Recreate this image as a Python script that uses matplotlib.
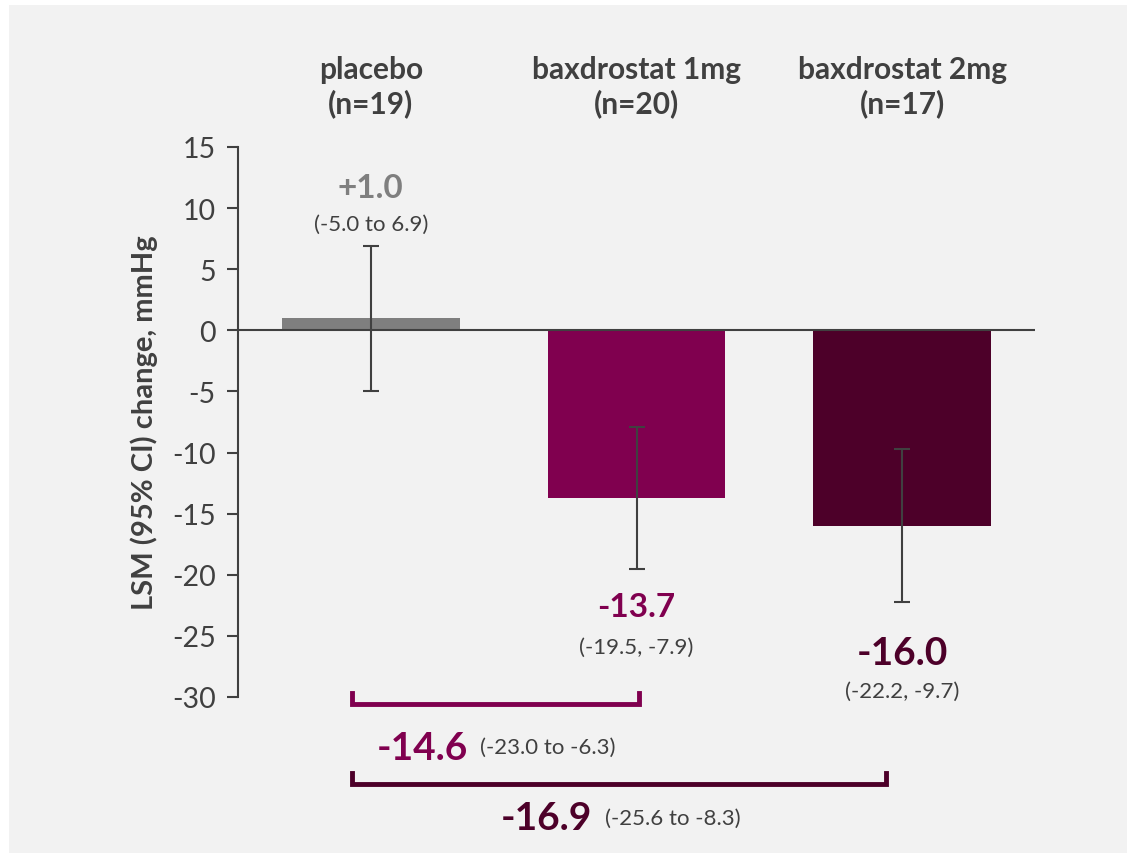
import numpy as np
import matplotlib.pyplot as plt
from matplotlib.patches import Rectangle

# --- data ---
groups = ['placebo', 'baxdrostat 1mg', 'baxdrostat 2mg']
n_sizes = [19, 20, 17]
lsm = [1.0, -13.7, -16.0]
ci_low = [-5.0, -19.5, -22.2]
ci_high = [6.9, -7.9, -9.7]
value_labels = ['+1.0', '-13.7', '-16.0']
ci_labels = ['(-5.0 to 6.9)', '(-19.5, -7.9)', '(-22.2, -9.7)']

# placebo-adjusted differences
diff_values = ['-14.6', '-16.9']
diff_ci = ['(-23.0 to -6.3)', '(-25.6 to -8.3)']

yticks = [15, 10, 5, 0, -5, -10, -15, -20, -25, -30]

# --- style ---
DARK = '#404040'
COLORS = ['#7F7F7F', '#80004F', '#4D0029']
FONT = ['Lato', 'DejaVu Sans']
plt.rcParams['font.family'] = FONT

fig = plt.figure(figsize=(11.27, 8.54), dpi=100)
fig.patch.set_facecolor('white')
fig.patches.append(Rectangle((9 / 1127, 0), 1 - 9 / 1127, 1 - 6 / 854,
                             transform=fig.transFigure, facecolor='#F2F2F2',
                             edgecolor='none', zorder=-10))

ax = fig.add_axes([238 / 1127, 1 - 698 / 854, (1035 - 238) / 1127, (698 - 148) / 854])
ax.set_facecolor('none')

x = np.arange(len(groups))
ax.bar(x, lsm, width=0.67, color=COLORS, zorder=2)
yerr = [np.array(lsm) - np.array(ci_low), np.array(ci_high) - np.array(lsm)]
ax.errorbar(x, lsm, yerr=yerr, fmt='none', ecolor=DARK, elinewidth=1.5,
            capsize=6, capthick=1.5, zorder=3)

ax.set_xlim(-0.5, 2.5)
ax.set_ylim(-30, 15)
ax.set_yticks(yticks)
ax.set_yticklabels([str(t) for t in yticks])
ax.tick_params(axis='y', direction='out', length=8, width=1.5, color=DARK,
               labelcolor=DARK, labelsize=20.5, pad=8)
ax.set_xticks([])
for s in ['top', 'right', 'bottom']:
    ax.spines[s].set_visible(False)
ax.spines['left'].set_color(DARK)
ax.spines['left'].set_linewidth(1.5)
ax.axhline(0, color=DARK, lw=1.5, zorder=4)

ax.set_ylabel('LSM (95% CI) change, mmHg', fontsize=21, fontweight='bold', color=DARK)
ax.yaxis.set_label_coords(-0.10, 0.5)

# group headers
for i, (g, n) in enumerate(zip(groups, n_sizes)):
    ax.text(x[i], 20.0, f'{g}\n(n={n})', ha='center', va='center', fontsize=21.5,
            fontweight='bold', color=DARK, linespacing=1.2, clip_on=False)

# value + CI labels
val_y = [11.7, -22.6, -26.4]
ci_y = [8.7, -25.9, -29.5]
val_size = [24, 24, 28]
for i in range(len(groups)):
    ax.text(x[i], val_y[i], value_labels[i], ha='center', va='center',
            fontsize=val_size[i], fontweight='bold', color=COLORS[i], clip_on=False)
    ax.text(x[i], ci_y[i], ci_labels[i], ha='center', va='center',
            fontsize=16, color=DARK, clip_on=False)

# comparison brackets
def bracket(x0, x1, y, h, color):
    ax.plot([x0, x0, x1, x1], [y + h, y, y, y + h], color=color, lw=3.5,
            clip_on=False, solid_joinstyle='miter')

bracket(-0.07, 1.01, -30.6, 0.9, COLORS[1])
bracket(-0.07, 1.94, -37.1, 0.9, COLORS[2])

ax.text(0.366, -34.1, diff_values[0], ha='right', va='center', fontsize=28,
        fontweight='bold', color=COLORS[1], clip_on=False)
ax.text(0.411, -34.1, diff_ci[0], ha='left', va='center', fontsize=16,
        color=DARK, clip_on=False)
ax.text(0.834, -39.9, diff_values[1], ha='right', va='center', fontsize=28,
        fontweight='bold', color=COLORS[2], clip_on=False)
ax.text(0.883, -39.9, diff_ci[1], ha='left', va='center', fontsize=16,
        color=DARK, clip_on=False)

fig.savefig('out.png', dpi=100, facecolor=fig.get_facecolor())
